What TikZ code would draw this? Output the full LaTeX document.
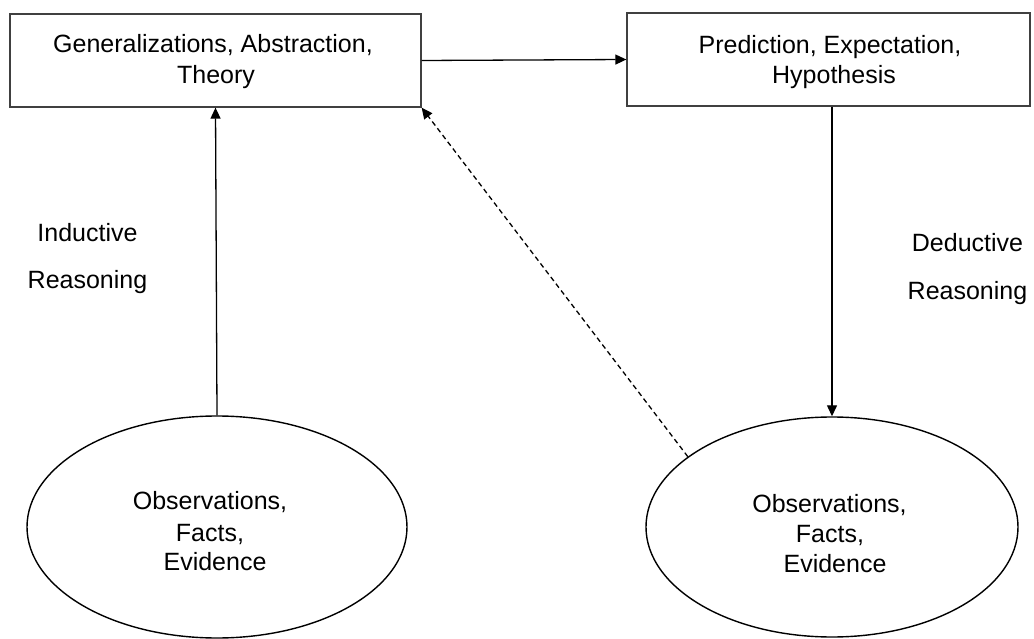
\documentclass[tikz,border=0pt]{standalone}
\usepackage{fontspec}
\setmainfont{Liberation Sans}
\usetikzlibrary{shapes.geometric,arrows.meta}
\begin{document}
\begin{tikzpicture}[x=1pt,y=-1pt,
  box/.style={draw=black!75,line width=1.3pt,rectangle,inner sep=0pt},
  oval/.style={draw=black,line width=1.4pt,ellipse,inner sep=0pt},
  txt/.style={font=\fontsize{25}{30}\selectfont,anchor=base,inner sep=0pt},
  link/.style={draw=black,line width=1.3pt,-{Triangle[length=11pt,width=10pt]}},
  dashlink/.style={link,dash pattern=on 5pt off 3.5pt}]
\useasboundingbox[fill=white] (0,0) rectangle (1034,639);

% boxes
\node[box,minimum width=411pt,minimum height=93pt] (lb) at (215.5,60.5) {};
\node[box,minimum width=403pt,minimum height=93pt] (rb) at (828.5,59.5) {};

% ovals
\node[oval,minimum width=380pt,minimum height=222pt] (le) at (217,527) {};
\node[oval,minimum width=372pt,minimum height=220pt] (re) at (832,527) {};

% box texts
\node[txt] (lb1) at (213,53) {Generalizations, Abstraction,};
\node[txt] (lb2) at (216,84) {Theory};
\node[txt] (rb1) at (830,54) {Prediction, Expectation,};
\node[txt] (rb2) at (834,84) {Hypothesis};

% oval texts
\node[txt] (le1) at (210,509) {Observations,};
\node[txt] (le2) at (210,541) {Facts,};
\node[txt] (le3) at (215,570) {Evidence};
\node[txt] (re1) at (829.5,512) {Observations,};
\node[txt] (re2) at (830,542) {Facts,};
\node[txt] (re3) at (835,572) {Evidence};

% side labels
\node[txt] (ind1) at (87.5,242) {Inductive};
\node[txt] (ind2) at (87.5,288) {Reasoning};
\node[txt] (ded1) at (967.5,252) {Deductive};
\node[txt] (ded2) at (967.5,299) {Reasoning};

% connectors
\draw[link] (lb.east) -- (rb.west);
\draw[link] (le.north) -- (lb.south);
\draw[link] (rb.south -| re.north) -- (re.north);
\draw[dashlink] (re.154.4) -- (lb.south east);
\end{tikzpicture}
\end{document}
